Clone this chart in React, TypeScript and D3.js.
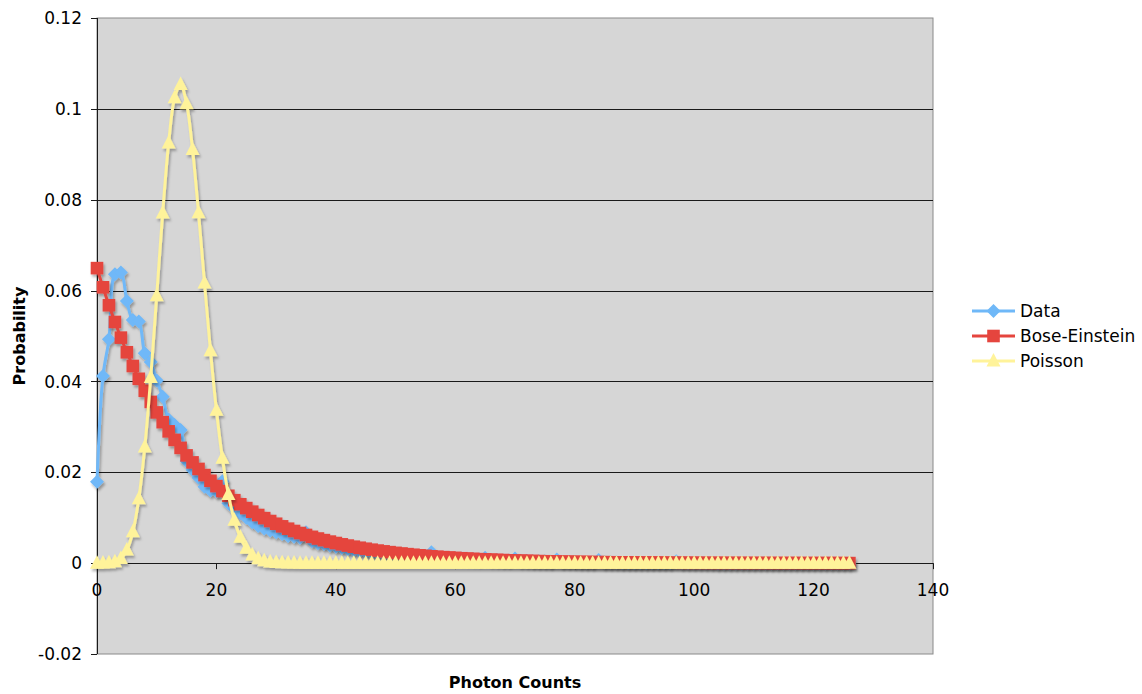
import React from "react";
import * as d3 from "d3";

const photonCounts: number[] = Array.from({ length: 127 }, (_, i) => i);

const dataSeries: number[] = [
  0.0179, 0.0412, 0.0493, 0.0636, 0.0640, 0.0577, 0.0535, 0.0532, 0.0462, 0.0443,
  0.0402, 0.0366, 0.0316, 0.0304, 0.0293, 0.0225, 0.0205, 0.0188, 0.0168, 0.0160,
  0.0158, 0.0180, 0.0132, 0.0120, 0.0110, 0.0100, 0.0090, 0.0082, 0.0076, 0.0072,
  0.0068, 0.0064, 0.0060, 0.0058, 0.0056, 0.0068, 0.0048, 0.0044, 0.0042, 0.0039,
  0.0036, 0.0034, 0.0031, 0.0029, 0.0027, 0.0025, 0.0024, 0.0023, 0.0022, 0.0021,
  0.0020, 0.0019, 0.0018, 0.0016, 0.0015, 0.0016, 0.0024, 0.0013, 0.0012, 0.0011,
  0.0011, 0.0010, 0.0009, 0.0009, 0.0008, 0.0012, 0.0007, 0.0007, 0.0006, 0.0006,
  0.0010, 0.0005, 0.0005, 0.0004, 0.0004, 0.0004, 0.0003, 0.0008, 0.0003, 0.0003,
  0.0003, 0.0002, 0.0002, 0.0002, 0.0007, 0.0002, 0.0002, 0.0002, 0.0001, 0.0001,
  0.0001, 0.0001, 0.0001, 0.0001, 0.0001, 0.0001, 0.0001, 0.0004, 0.0001, 0.0001,
  0.0001, 0.0001, 0.0001, 0.0001, 0.0000, 0.0000, 0.0000, 0.0000, 0.0000, 0.0000,
  0.0000, 0.0000, 0.0000, 0.0000, 0.0000, 0.0000, 0.0000, 0.0000, 0.0000, 0.0000,
  0.0000, 0.0000, 0.0000, 0.0000, 0.0000, 0.0000, 0.0000,
];

const boseEinstein: number[] = [
  0.06494, 0.06072, 0.05677, 0.05309, 0.04964, 0.04642, 0.04340, 0.04058, 0.03795, 0.03549,
  0.03318, 0.03103, 0.02901, 0.02713, 0.02537, 0.02372, 0.02218, 0.02074, 0.01939, 0.01813,
  0.01696, 0.01586, 0.01483, 0.01386, 0.01296, 0.01212, 0.01133, 0.01060, 0.00991, 0.00927,
  0.00867, 0.00810, 0.00758, 0.00708, 0.00663, 0.00620, 0.00579, 0.00542, 0.00507, 0.00474,
  0.00443, 0.00414, 0.00387, 0.00362, 0.00339, 0.00317, 0.00296, 0.00277, 0.00259, 0.00242,
  0.00226, 0.00212, 0.00198, 0.00185, 0.00173, 0.00162, 0.00151, 0.00141, 0.00132, 0.00124,
  0.00116, 0.00108, 0.00101, 0.00094, 0.00088, 0.00083, 0.00077, 0.00072, 0.00068, 0.00063,
  0.00059, 0.00055, 0.00052, 0.00048, 0.00045, 0.00042, 0.00039, 0.00037, 0.00035, 0.00032,
  0.00030, 0.00028, 0.00026, 0.00025, 0.00023, 0.00022, 0.00020, 0.00019, 0.00018, 0.00017,
  0.00015, 0.00014, 0.00014, 0.00013, 0.00012, 0.00011, 0.00010, 0.00010, 0.00009, 0.00008,
  0.00008, 0.00007, 0.00007, 0.00006, 0.00006, 0.00006, 0.00005, 0.00005, 0.00005, 0.00004,
  0.00004, 0.00004, 0.00004, 0.00003, 0.00003, 0.00003, 0.00003, 0.00003, 0.00002, 0.00002,
  0.00002, 0.00002, 0.00002, 0.00002, 0.00002, 0.00001, 0.00001,
];

const poisson: number[] = [
  0.00000, 0.00001, 0.00006, 0.00028, 0.00100, 0.00288, 0.00690, 0.01419, 0.02555, 0.04088,
  0.05886, 0.07706, 0.09247, 0.10243, 0.10536, 0.10114, 0.09103, 0.07711, 0.06169, 0.04675,
  0.03366, 0.02308, 0.01511, 0.00946, 0.00568, 0.00327, 0.00181, 0.00097, 0.00050, 0.00025,
  0.00012, 0.00006, 0.00003, 0.00001, 0.00000, 0.00000, 0.00000, 0.00000, 0.00000, 0.00000,
  0, 0, 0, 0, 0, 0, 0, 0, 0, 0,
  0, 0, 0, 0, 0, 0, 0, 0, 0, 0,
  0, 0, 0, 0, 0, 0, 0, 0, 0, 0,
  0, 0, 0, 0, 0, 0, 0, 0, 0, 0,
  0, 0, 0, 0, 0, 0, 0, 0, 0, 0,
  0, 0, 0, 0, 0, 0, 0, 0, 0, 0,
  0, 0, 0, 0, 0, 0, 0, 0, 0, 0,
  0, 0, 0, 0, 0, 0, 0, 0, 0, 0,
  0, 0, 0, 0, 0, 0, 0,
];

const seriesNames = ["Data", "Bose-Einstein", "Poisson"];
const seriesColors = ["#6fb8f8", "#e5453e", "#fff39a"];
const xTicks = [0, 20, 40, 60, 80, 100, 120, 140];
const yTicks = [-0.02, 0, 0.02, 0.04, 0.06, 0.08, 0.1, 0.12];
const yTickLabels = ["-0.02", "0", "0.02", "0.04", "0.06", "0.08", "0.1", "0.12"];

const W = 1142;
const H = 694;
const L = 97, R = 933, T = 18, B = 654;
const FONT = "'DejaVu Sans', Verdana, sans-serif";

function markerPath(kind: number, x: number, y: number): string {
  if (kind === 0) {
    const h = 7;
    return `M${x},${y - h}L${x + h},${y}L${x},${y + h}L${x - h},${y}Z`;
  }
  if (kind === 1) {
    const h = 6.3;
    return `M${x - h},${y - h}H${x + h}V${y + h}H${x - h}Z`;
  }
  const w = 7, up = 8, dn = 5.5;
  return `M${x},${y - up}L${x + w},${y + dn}L${x - w},${y + dn}Z`;
}

export default function App() {
  const x = d3.scaleLinear().domain([0, 140]).range([L, R]);
  const y = d3.scaleLinear().domain([-0.02, 0.12]).range([B, T]);
  const all = [dataSeries, boseEinstein, poisson];

  const line = d3
    .line<number>()
    .x((_, i) => x(photonCounts[i]))
    .y((d) => y(d))
    .curve(d3.curveCatmullRom.alpha(0.5));

  return (
    <svg width={W} height={H} style={{ position: "absolute", left: 0, top: 0, background: "#fff" }}>
      <defs>
        <filter id="shadow" x="-10%" y="-10%" width="120%" height="120%">
          <feDropShadow dx="1.5" dy="2.5" stdDeviation="0.8" floodColor="#000" floodOpacity="0.3" />
        </filter>
      </defs>
      <rect x={L} y={T} width={R - L} height={B - T} fill="#d6d6d6" stroke="#8a8a8a" strokeWidth={1} />
      {yTicks.map((t, i) =>
        t === 0.12 || t === -0.02 ? null : (
          <line key={"g" + i} x1={L} x2={R} y1={Math.round(y(t)) + 0.5} y2={Math.round(y(t)) + 0.5} stroke="#1a1a1a" strokeWidth={1} />
        )
      )}
      <line x1={L + 0.5} x2={L + 0.5} y1={T} y2={B} stroke="#1a1a1a" strokeWidth={1} />
      {yTicks.map((t, i) => (
        <g key={"yt" + i}>
          <line x1={L - 6} x2={L} y1={Math.round(y(t)) + 0.5} y2={Math.round(y(t)) + 0.5} stroke="#1a1a1a" />
          <text x={L - 15} y={y(t)} dy="0.36em" textAnchor="end" fontFamily={FONT} fontSize={17} fill="#000">
            {yTickLabels[i]}
          </text>
        </g>
      ))}
      {xTicks.map((t, i) => (
        <g key={"xt" + i}>
          <line x1={Math.round(x(t)) + 0.5} x2={Math.round(x(t)) + 0.5} y1={y(0)} y2={y(0) + 6} stroke="#1a1a1a" />
          <text x={x(t)} y={y(0) + 27} dy="0.36em" textAnchor="middle" fontFamily={FONT} fontSize={17} fill="#000">
            {t}
          </text>
        </g>
      ))}
      {all.map((vals, s) => (
        <g key={"s" + s} filter="url(#shadow)">
          <path d={line(vals) || ""} fill="none" stroke={seriesColors[s]} strokeWidth={3} />
          {vals.map((v, i) => (
            <path key={i} d={markerPath(s, x(photonCounts[i]), y(v))} fill={seriesColors[s]} />
          ))}
        </g>
      ))}
      <text x={(L + R) / 2} y={688} textAnchor="middle" fontFamily={FONT} fontWeight="bold" fontSize={16} fill="#000">
        Photon Counts
      </text>
      <text transform={`translate(25, ${(T + B) / 2}) rotate(-90)`} textAnchor="middle" fontFamily={FONT} fontWeight="bold" fontSize={16} fill="#000">
        Probability
      </text>
      {seriesNames.map((n, s) => {
        const cy = 311 + s * 25;
        return (
          <g key={"lg" + s}>
            <line x1={972} x2={1015} y1={cy} y2={cy} stroke={seriesColors[s]} strokeWidth={3} />
            <path d={markerPath(s, 993.5, cy)} fill={seriesColors[s]} />
            <text x={1020} y={cy} dy="0.36em" fontFamily={FONT} fontSize={17} fill="#000">
              {n}
            </text>
          </g>
        );
      })}
    </svg>
  );
}
